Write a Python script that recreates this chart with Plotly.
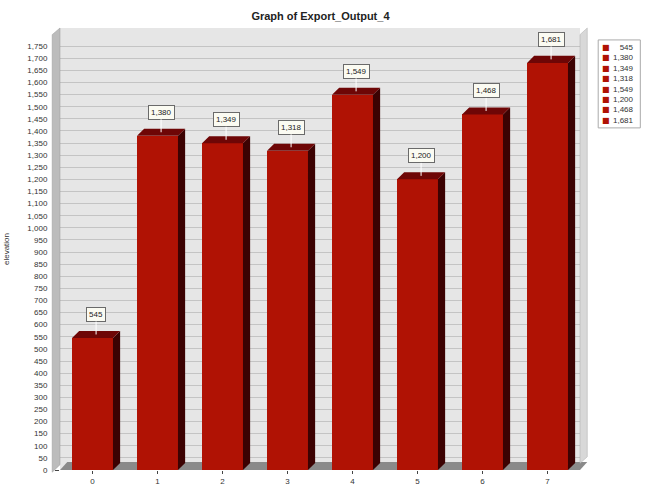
import plotly.graph_objects as go

categories = [0, 1, 2, 3, 4, 5, 6, 7]
values = [545, 1380, 1349, 1318, 1549, 1200, 1468, 1681]
legend_labels = ["545", "1,380", "1,349", "1,318", "1,549", "1,200", "1,468", "1,681"]
tick_vals = list(range(0, 1751, 50))

W = 0.63      # bar width (category units)
DX = 0.11     # depth offset x (category units)
DY = 29       # depth offset y (value units)

FRONT = "#b01204"
SIDE = "#3c0202"
TOP = "#6e0606"

fig = go.Figure()

# front faces
fig.add_trace(go.Bar(x=categories, y=values, width=W,
                     marker=dict(color=FRONT, line=dict(width=0)),
                     hoverinfo="skip", showlegend=False))

# side faces and top faces
sx, sy, tx, ty = [], [], [], []
for c, v in zip(categories, values):
    r = c + W / 2
    l = c - W / 2
    sx += [r, r + DX, r + DX, r, r, None]
    sy += [0, DY, v + DY, v, 0, None]
    tx += [l, l + DX, r + DX, r, l, None]
    ty += [v, v + DY, v + DY, v, v, None]
fig.add_trace(go.Scatter(x=sx, y=sy, fill="toself", mode="lines",
                         line=dict(width=0, color=SIDE), fillcolor=SIDE,
                         showlegend=False, hoverinfo="skip"))
fig.add_trace(go.Scatter(x=tx, y=ty, fill="toself", mode="lines",
                         line=dict(width=0, color=TOP), fillcolor=TOP,
                         showlegend=False, hoverinfo="skip"))

# value labels
for c, v, lab in zip(categories, values, legend_labels):
    fig.add_annotation(x=c + DX / 2, y=v + DY / 2, text=lab, showarrow=True,
                       arrowhead=0, arrowwidth=1, arrowcolor="#ffffff",
                       ax=0, ay=-20, bgcolor="#fbfbf2", bordercolor="#6a6a6a",
                       borderwidth=1, borderpad=2,
                       font=dict(size=8, color="#222222", family="Arial"))

# legend box (drawn manually for compact spacing)
fig.add_shape(type="rect", xref="paper", yref="paper",
              x0=1.035, x1=1.116, y0=0.774, y1=0.973,
              fillcolor="white", line=dict(width=1, color="#aaaaaa"))
fig.add_annotation(xref="paper", yref="paper", x=1.050, y=0.8735,
                   xanchor="center", yanchor="middle", showarrow=False,
                   text="<br>".join(["■"] * len(legend_labels)),
                   font=dict(size=8, color=FRONT, family="DejaVu Sans"))
fig.add_annotation(xref="paper", yref="paper", x=1.108, y=0.8735,
                   xanchor="right", yanchor="middle", showarrow=False,
                   align="right", text="<br>".join(legend_labels),
                   font=dict(size=8, color="#333333", family="Arial"))

# floor and walls (decoration)
fig.add_shape(type="path", xref="paper", yref="paper",
              path="M 0,0 L 1,0 L 1.014,0.018 L 0.014,0.018 Z",
              fillcolor="#8a8a8a", line=dict(width=0), layer="below")
fig.add_shape(type="path", xref="paper", yref="paper",
              path="M -0.015,-0.005 L 0,0.012 L 0,1 L -0.015,0.985 Z",
              fillcolor="#bcbcbc", line=dict(width=0.5, color="#999999"))
fig.add_shape(type="path", xref="paper", yref="paper",
              path="M 1,0.015 L 1.014,0.03 L 1.014,1 L 1,0.985 Z",
              fillcolor="#d8d8d8", line=dict(width=0.5, color="#aaaaaa"))

fig.update_layout(
    width=654, height=503,
    margin=dict(l=60, r=74, t=28, b=33),
    paper_bgcolor="white",
    plot_bgcolor="#e6e6e6",
    barmode="overlay",
    bargap=0,
    title=dict(text="<b>Graph of Export_Output_4</b>", x=0.49, xanchor="center",
               y=0.967, yanchor="middle",
               font=dict(size=11, family="Arial", color="#222222")),
    font=dict(family="Arial", size=8, color="#333333"),
    xaxis=dict(range=[-0.5, 7.5], tickmode="array", tickvals=categories,
               ticktext=[str(c) for c in categories], showgrid=False,
               ticks="outside", ticklen=3, tickcolor="#444444",
               tickfont=dict(size=8), zeroline=False, showline=False,
               automargin=False),
    yaxis=dict(range=[0, 1825], tickmode="array", tickvals=tick_vals,
               tickformat=",d", ticks="outside", ticklen=4, tickcolor="#444444",
               gridcolor="#c4c4c4", gridwidth=1, zeroline=False,
               tickfont=dict(size=8), ticklabelstandoff=6, automargin=False,
               title=dict(text="elevation", font=dict(size=8), standoff=16)),
    showlegend=False,
)

fig.write_html("out.html")
